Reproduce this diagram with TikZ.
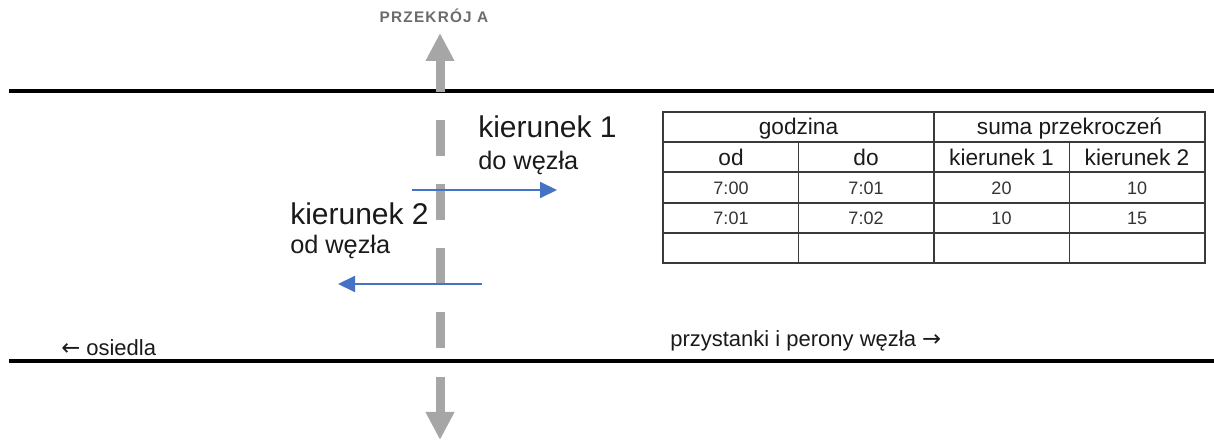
\documentclass[tikz,border=0pt]{standalone}
\usepackage{fontspec}
\setmainfont{Liberation Sans}
\newfontfamily\symfont{DejaVu Sans}
\newfontfamily\capsfont[LetterSpace=8]{Liberation Sans}
\usetikzlibrary{arrows.meta}
\definecolor{ink}{HTML}{1A1A1A}
\definecolor{cellink}{HTML}{333333}
\definecolor{grid}{HTML}{3A3A3A}
\definecolor{section}{HTML}{A6A6A6}
\definecolor{captiongray}{HTML}{6B6B6B}
\definecolor{flowblue}{HTML}{4472C4}
\newcommand{\sidearrow}[1]{{\symfont\fontsize{17}{19}\selectfont #1}}
\tikzset{
  txt/.style={inner sep=0pt, text=ink, anchor=base west},
  dirname/.style={txt, font=\fontsize{22.5}{26}\selectfont},
  dirsub/.style={txt, font=\fontsize{19}{22}\selectfont},
  sidelbl/.style={txt, font=\fontsize{16.5}{19}\selectfont},
  head/.style={inner sep=0pt, text=ink, anchor=base, font=\fontsize{17}{20}\selectfont},
  cell/.style={inner sep=0pt, text=cellink, anchor=base, font=\fontsize{13.5}{16}\selectfont},
  road/.style={line width=3pt, black},
  gridline/.style={line width=0.9pt, grid},
  sectiondash/.style={line width=6.75pt, section, dash pattern=on 27pt off 21pt},
  sectionarrow/.style={line width=6.75pt, section,
    -{Triangle[length=21pt, width=20.25pt]}},
  flow/.style={line width=1.4pt, flowblue,
    -{Triangle[length=12.75pt, width=12pt]}},
}
\begin{document}
\begin{tikzpicture}[x=0.75pt, y=-0.75pt]
\useasboundingbox (0,0) rectangle (1214,441);

% street edges
\coordinate (roadTopL) at (9,91.5);
\coordinate (roadTopR) at (1214,91.5);
\coordinate (roadBotL) at (9,361.5);
\coordinate (roadBotR) at (1214,361.5);
\draw[road] (roadTopL) -- (roadTopR);
\draw[road] (roadBotL) -- (roadBotR);

% section line A with its two end arrows
\coordinate (secTopBase) at (440,92);
\coordinate (secTopTip) at (440,33);
\coordinate (secDashA) at (440,120);
\coordinate (secDashB) at (440,348);
\coordinate (secBotBase) at (440,377);
\coordinate (secBotTip) at (440,440);
\draw[sectionarrow] (secTopBase) -- (secTopTip);
\draw[sectiondash] (secDashA) -- (secDashB);
\draw[sectionarrow] (secBotBase) -- (secBotTip);
\node[inner sep=0pt, anchor=base, text=captiongray,
      font=\capsfont\bfseries\fontsize{11.5}{13}\selectfont]
  (secName) at (434,23) {PRZEKRÓJ A};

% crossing directions
\coordinate (dir1From) at (412,190);
\coordinate (dir1To) at (557,190);
\coordinate (dir2From) at (482,284);
\coordinate (dir2To) at (338,284);
\draw[flow] (dir1From) -- (dir1To);
\draw[flow] (dir2From) -- (dir2To);

\node[dirname] (dir1) at (478,138) {kierunek 1};
\node[dirsub]  (dir1sub) at (478,170) {do węzła};
\node[dirname] (dir2) at (290,225) {kierunek 2};
\node[dirsub]  (dir2sub) at (290,254) {od węzła};

% street ends
\node[sidelbl] (west) at (61,356) {\sidearrow{←} osiedla};
\node[sidelbl] (east) at (670,347) {przystanki i perony węzła \sidearrow{→}};

% counting table
\draw[gridline] (663,112) rectangle (1205,263);
\foreach \r in {142,172,203,233}
  \draw[gridline] (663,\r) -- (1205,\r);
\draw[gridline] (934,112) -- (934,263);
\draw[gridline] (798.5,142) -- (798.5,263);
\draw[gridline] (1069.5,142) -- (1069.5,263);

\node[head] (hHour) at (798.5,135) {godzina};
\node[head] (hSum)  at (1069.5,135) {suma przekroczeń};
\node[head] (hFrom) at (731,166) {od};
\node[head] (hTo)   at (866,166) {do};
\node[head] (hDir1) at (1001.5,166) {kierunek 1};
\node[head] (hDir2) at (1137,166) {kierunek 2};

\node[cell] (c11) at (731,195) {7:00};
\node[cell] (c12) at (866,195) {7:01};
\node[cell] (c13) at (1001.5,195) {20};
\node[cell] (c14) at (1137,195) {10};
\node[cell] (c21) at (731,225) {7:01};
\node[cell] (c22) at (866,225) {7:02};
\node[cell] (c23) at (1001.5,225) {10};
\node[cell] (c24) at (1137,225) {15};
\end{tikzpicture}
\end{document}
